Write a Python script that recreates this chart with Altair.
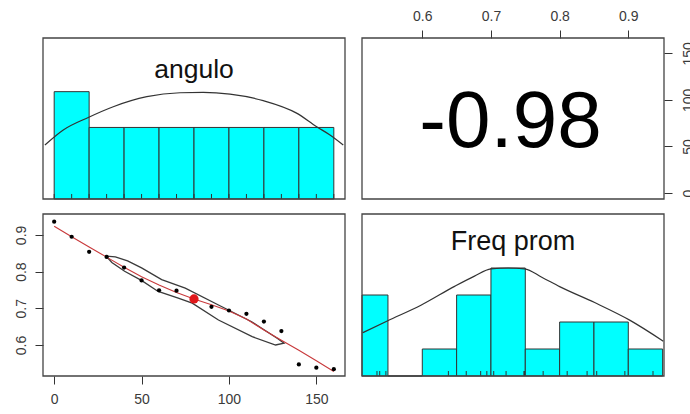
import altair as alt
import numpy as np
import pandas as pd

# ---- data -------------------------------------------------------------
angulo = [0, 10, 20, 30, 40, 50, 60, 70, 80, 90, 100, 110, 120, 130, 140, 150, 160]
freq_prom = [0.936, 0.895, 0.854, 0.840, 0.811, 0.776, 0.749, 0.748, 0.722,
             0.704, 0.694, 0.685, 0.664, 0.638, 0.547, 0.538, 0.534]
var_names = ["angulo", "Freq prom"]
corr_value = -0.98

# histogram breaks (right-closed bins, as in R's hist)
ang_breaks = [0, 20, 40, 60, 80, 100, 120, 140, 160]
freq_breaks = [0.50, 0.55, 0.60, 0.65, 0.70, 0.75, 0.80, 0.85, 0.90, 0.95]

# fitted density curves over each histogram, in count units
ang_curve_x = [-5.3, 5.2, 19.5, 33.8, 53.0, 72.0, 85.3, 100.6, 119.6, 138.7, 150.2, 157.8, 165.4]
ang_curve_y = [1.51, 1.93, 2.28, 2.58, 2.86, 2.97, 2.98, 2.93, 2.75, 2.40, 2.02, 1.79, 1.51]
freq_curve_x = [0.513, 0.549, 0.598, 0.647, 0.676, 0.700, 0.725, 0.749, 0.774, 0.800, 0.851, 0.902, 0.951]
freq_curve_y = [1.60, 2.04, 2.62, 3.32, 3.70, 3.97, 4.00, 3.97, 3.66, 3.31, 2.72, 2.07, 1.29]

# correlation ellipse outline
ell_x = [29.8, 35, 42, 50, 61.5, 75, 94, 113, 128, 131.5, 126.7, 113.3, 94, 79, 71, 59.5, 49.9, 40.3, 33, 29.8]
ell_y = [0.842, 0.840, 0.829, 0.810, 0.778, 0.755, 0.709, 0.6635, 0.617, 0.605, 0.600,
         0.6226, 0.668, 0.714, 0.728, 0.746, 0.776, 0.801, 0.825, 0.842]

# ---- derived tables ---------------------------------------------------
pts = pd.DataFrame({"angulo": angulo, "freq": freq_prom})
one = pd.DataFrame({"k": [0]})  # single row for frames and labels


def hist_table(values, breaks):
    cats = pd.cut(values, bins=breaks, right=True, include_lowest=True)
    counts = pd.Series(cats).value_counts(sort=False).values
    return pd.DataFrame({"b0": breaks[:-1], "b1": breaks[1:],
                         "count": counts, "base": 0})


hist_a = hist_table(angulo, ang_breaks)
hist_f = hist_table(freq_prom, freq_breaks)
curve_a = pd.DataFrame({"x": ang_curve_x, "y": ang_curve_y})
curve_f = pd.DataFrame({"x": freq_curve_x, "y": freq_curve_y})
ellipse = pd.DataFrame({"x": ell_x, "y": ell_y, "i": range(len(ell_x))})

# ---- panel geometry (pixel ranges inside the 690x414 canvas) ----------
COL_L = [43, 345]
COL_R = [362, 664]
ROW_T = [199, 38]
ROW_B = [376, 214]

ANG_DOM = [-6.4, 166.4]
FREQ_DOM_X = [0.5122, 0.952]
FREQ_DOM_Y = [0.5155, 0.957]
HA_DOM = [0, 1.5 * hist_a["count"].max()]
HF_DOM = [0, 1.5 * hist_f["count"].max()]


def sc(dom, rng, clamp=False):
    return alt.Scale(domain=dom, range=rng, zero=False, nice=False, clamp=clamp)


FONT = "Liberation Sans"
AX = dict(domain=False, grid=False, tickSize=8, tickColor="#333", tickWidth=1,
          labelFont=FONT, labelFontSize=14, labelColor="#3a3a3a",
          labelOverlap=False, labelFlush=False, labelBound=False, title=None)

BAR = dict(fill="#00FFFF", stroke="#333333", strokeWidth=1)
CURVE = dict(color="#333333", strokeWidth=1.2, interpolate="monotone")
FRAME = dict(fillOpacity=0, stroke="#444444", strokeWidth=1.3)
layers = []

# ---- top-left: histogram of angulo ------------------------------------
xa = sc(ANG_DOM, COL_L)
ya = sc(HA_DOM, ROW_T)
layers.append(alt.Chart(hist_a).mark_rect(**BAR).encode(
    x=alt.X("b0:Q", scale=xa, axis=None), x2="b1",
    y=alt.Y("count:Q", scale=ya, axis=None), y2="base"))
layers.append(alt.Chart(pts).mark_rule(color="#333", strokeWidth=1).encode(
    x=alt.X("angulo:Q", scale=xa, axis=None),
    y=alt.YDatum(0, type="quantitative", scale=ya, axis=None),
    y2=alt.Y2Datum(0.14)))
layers.append(alt.Chart(curve_a).mark_line(**CURVE).encode(
    x=alt.X("x:Q", scale=xa, axis=None), y=alt.Y("y:Q", scale=ya, axis=None)))
layers.append(alt.Chart(one).mark_text(text=var_names[0], font=FONT, fontSize=26.5,
                                       color="#111", baseline="alphabetic").encode(
    x=alt.XDatum(80, type="quantitative", scale=xa, axis=None),
    y=alt.YDatum(3.38, type="quantitative", scale=ya, axis=None)))
layers.append(alt.Chart(one).mark_rect(**FRAME).encode(
    x=alt.XDatum(ANG_DOM[0], type="quantitative", scale=xa, axis=None),
    x2=alt.X2Datum(ANG_DOM[1]),
    y=alt.YDatum(HA_DOM[0], type="quantitative", scale=ya, axis=None),
    y2=alt.Y2Datum(HA_DOM[1])))

# ---- top-right: correlation coefficient, with top and right axes ------
xtr = sc(FREQ_DOM_X, COL_R)
ytr = sc(ANG_DOM, ROW_T)
layers.append(alt.Chart(one).mark_rect(**FRAME).encode(
    x=alt.XDatum(FREQ_DOM_X[0], type="quantitative", scale=xtr,
                 axis=alt.Axis(orient="top", offset=-38, values=[0.6, 0.7, 0.8, 0.9],
                               format=".1f", labelPadding=7, **AX)),
    x2=alt.X2Datum(FREQ_DOM_X[1]),
    y=alt.YDatum(ANG_DOM[0], type="quantitative", scale=ytr,
                 axis=alt.Axis(orient="right", offset=-26, values=[0, 50, 100, 150],
                               labelAngle=270, labelPadding=9, **AX)),
    y2=alt.Y2Datum(ANG_DOM[1])))
layers.append(alt.Chart(one).mark_text(text=f"{corr_value:.2f}", font=FONT, fontSize=80,
                                       color="#000", baseline="alphabetic").encode(
    x=alt.XDatum(0.7284, type="quantitative", scale=xtr, axis=None),
    y=alt.YDatum(49.4, type="quantitative", scale=ytr, axis=None)))

# ---- bottom-left: scatter with ellipse, lowess and mean ---------------
xbl = sc(ANG_DOM, COL_L)
ybl = sc(FREQ_DOM_Y, ROW_B)
layers.append(alt.Chart(one).mark_rect(**FRAME).encode(
    x=alt.XDatum(ANG_DOM[0], type="quantitative", scale=xbl,
                 axis=alt.Axis(orient="bottom", offset=-38, values=[0, 50, 100, 150],
                               labelPadding=8, **AX)),
    x2=alt.X2Datum(ANG_DOM[1]),
    y=alt.YDatum(FREQ_DOM_Y[0], type="quantitative", scale=ybl,
                 axis=alt.Axis(orient="left", offset=-43, values=[0.6, 0.7, 0.8, 0.9],
                               format=".1f", labelAngle=270, labelPadding=7, **AX)),
    y2=alt.Y2Datum(FREQ_DOM_Y[1])))
layers.append(alt.Chart(ellipse).mark_line(color="#3a3a3a", strokeWidth=1.3).encode(
    x=alt.X("x:Q", scale=xbl, axis=None), y=alt.Y("y:Q", scale=ybl, axis=None),
    order="i:Q"))
layers.append(alt.Chart(pts).transform_loess("angulo", "freq", bandwidth=0.67).mark_line(
    color="#c8393b", strokeWidth=1.1).encode(
    x=alt.X("angulo:Q", scale=xbl, axis=None), y=alt.Y("freq:Q", scale=ybl, axis=None)))
layers.append(alt.Chart(pts).mark_circle(size=18, color="#000", opacity=1).encode(
    x=alt.X("angulo:Q", scale=xbl, axis=None), y=alt.Y("freq:Q", scale=ybl, axis=None)))
layers.append(alt.Chart(pts).transform_aggregate(
    mx="mean(angulo)", my="mean(freq)").mark_circle(size=85, color="#e0181b", opacity=1).encode(
    x=alt.X("mx:Q", scale=xbl, axis=None), y=alt.Y("my:Q", scale=ybl, axis=None)))

# ---- bottom-right: histogram of Freq prom -----------------------------
xf = sc(FREQ_DOM_X, COL_R, clamp=True)
yf = sc(HF_DOM, ROW_B)
layers.append(alt.Chart(hist_f).mark_rect(**BAR).encode(
    x=alt.X("b0:Q", scale=xf, axis=None), x2="b1",
    y=alt.Y("count:Q", scale=yf, axis=None), y2="base"))
layers.append(alt.Chart(pts).mark_rule(color="#333", strokeWidth=1).encode(
    x=alt.X("freq:Q", scale=xf, axis=None),
    y=alt.YDatum(0, type="quantitative", scale=yf, axis=None),
    y2=alt.Y2Datum(0.185)))
layers.append(alt.Chart(curve_f).mark_line(**CURVE).encode(
    x=alt.X("x:Q", scale=xf, axis=None), y=alt.Y("y:Q", scale=yf, axis=None)))
layers.append(alt.Chart(one).mark_text(text=var_names[1], font=FONT, fontSize=27,
                                       color="#111", baseline="alphabetic").encode(
    x=alt.XDatum(0.732, type="quantitative", scale=xf, axis=None),
    y=alt.YDatum(4.67, type="quantitative", scale=yf, axis=None)))
layers.append(alt.Chart(one).mark_rect(**FRAME).encode(
    x=alt.XDatum(FREQ_DOM_X[0], type="quantitative", scale=xf, axis=None),
    x2=alt.X2Datum(FREQ_DOM_X[1]),
    y=alt.YDatum(HF_DOM[0], type="quantitative", scale=yf, axis=None),
    y2=alt.Y2Datum(HF_DOM[1])))

chart = alt.layer(*layers).resolve_scale(
    x="independent", y="independent"
).properties(
    width=690, height=414,
    autosize=alt.AutoSizeParams(type="none"),
    padding=0,
    background="white",
).configure_view(stroke=None)

chart.save("out.html", embed_options={"renderer": "svg", "actions": False})
